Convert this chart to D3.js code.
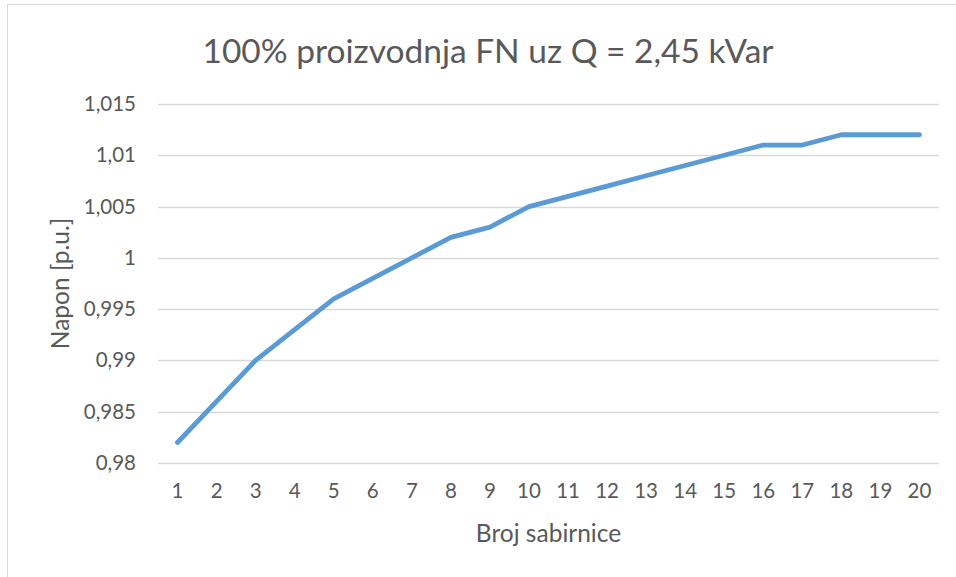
<!DOCTYPE html>
<html>
<head>
<meta charset="utf-8">
<script src="https://cdn.jsdelivr.net/npm/d3@7"></script>
<style>
  html, body { margin: 0; padding: 0; background: #fff; }
  svg { display: block; }
  text { font-family: Lato, "Open Sans", sans-serif; fill: #595959; }
</style>
</head>
<body>
<svg id="chart" width="956" height="577"></svg>
<script>
// Bus numbers along the feeder and per-unit voltage at each bus
const buses = [1, 2, 3, 4, 5, 6, 7, 8, 9, 10, 11, 12, 13, 14, 15, 16, 17, 18, 19, 20];
const voltage = [0.982, 0.986, 0.990, 0.993, 0.996, 0.998, 1.000, 1.002, 1.003, 1.005,
                 1.006, 1.007, 1.008, 1.009, 1.010, 1.011, 1.011, 1.012, 1.012, 1.012];
const yTicks = [0.98, 0.985, 0.99, 0.995, 1, 1.005, 1.01, 1.015];
const yTickLabels = ["0,98", "0,985", "0,99", "0,995", "1", "1,005", "1,01", "1,015"];

const titleText = "100% proizvodnja FN uz Q = 2,45 kVar";
const xTitle = "Broj sabirnice";
const yTitle = "Napon [p.u.]";

const svg = d3.select("#chart");
const W = 956, H = 577;
const plot = { left: 158, right: 939, top: 104, bottom: 463 };

// Outer chart frame
svg.append("rect")
  .attr("x", 7.5).attr("y", 4.5)
  .attr("width", W + 10).attr("height", H + 10)
  .attr("fill", "#fff").attr("stroke", "#d9d9d9").attr("stroke-width", 1);

const x = d3.scaleBand().domain(buses).range([plot.left, plot.right]);
const y = d3.scaleLinear().domain([0.98, 1.015]).range([plot.bottom, plot.top]);

// Horizontal gridlines
svg.append("g")
  .selectAll("line")
  .data(yTicks)
  .join("line")
  .attr("x1", plot.left).attr("x2", plot.right)
  .attr("y1", d => Math.round(y(d)) + 0.5).attr("y2", d => Math.round(y(d)) + 0.5)
  .attr("stroke", "#d9d9d9").attr("stroke-width", 1.3);

// Y axis labels
const yAxis = d3.axisLeft(y)
  .tickValues(yTicks)
  .tickFormat((d, i) => yTickLabels[i])
  .tickSize(0).tickPadding(0);
const gy = svg.append("g").attr("transform", `translate(${plot.left - 22},0)`).call(yAxis);
gy.select(".domain").remove();
gy.selectAll("text").style("font-size", "20.5px").style("font-family", null).attr("fill", "#595959");

// X axis labels
const xAxis = d3.axisBottom(x).tickSize(0).tickPadding(0);
const gx = svg.append("g").attr("transform", `translate(0,${plot.bottom + 20})`).call(xAxis);
gx.select(".domain").remove();
gx.selectAll("text").style("font-size", "20.5px").style("font-family", null).attr("fill", "#595959");

// Voltage profile line
const line = d3.line()
  .x((d, i) => x(buses[i]) + x.bandwidth() / 2)
  .y(d => y(d));
svg.append("path")
  .datum(voltage)
  .attr("d", line)
  .attr("fill", "none")
  .attr("stroke", "#5b9bd5")
  .attr("stroke-width", 4.8)
  .attr("stroke-linejoin", "round")
  .attr("stroke-linecap", "round");

// Title and axis titles
svg.append("text")
  .attr("x", 488).attr("y", 63)
  .attr("text-anchor", "middle")
  .style("font-size", "33.5px")
  .text(titleText);

svg.append("text")
  .attr("x", (plot.left + plot.right) / 2).attr("y", 542)
  .attr("text-anchor", "middle")
  .style("font-size", "24.5px")
  .text(xTitle);

svg.append("text")
  .attr("transform", `translate(69,${(plot.top + plot.bottom) / 2}) rotate(-90)`)
  .attr("text-anchor", "middle")
  .style("font-size", "24.5px")
  .text(yTitle);
</script>
</body>
</html>
